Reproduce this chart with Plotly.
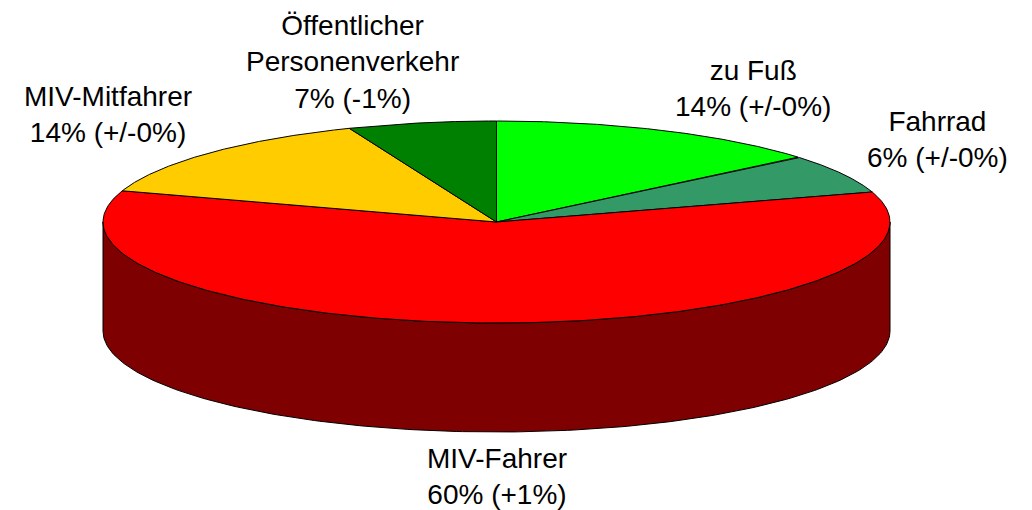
import numpy as np
import plotly.graph_objects as go

# ---- data ----
categories = ["zu Fuß", "Fahrrad", "MIV-Fahrer", "MIV-Mitfahrer", "Öffentlicher Personenverkehr"]
shares = [13.9, 6.3, 59.8, 13.9, 6.1]          # estimated slice shares (%)
label_texts = ["zu Fuß<br>14% (+/-0%)",
               "Fahrrad<br>6% (+/-0%)",
               "MIV-Fahrer<br>60% (+1%)",
               "MIV-Mitfahrer<br>14% (+/-0%)",
               "Öffentlicher<br>Personenverkehr<br>7% (-1%)"]

# ---- style / layout ----
colors = ["#00FF00", "#339966", "#FF0000", "#FFCC00", "#008000"]
label_pos = [(753, 88), (937, 139), (497, 476), (108, 114), (352, 62)]
CX, CY, RX, RY, DEPTH = 496.5, 222.0, 393.5, 101.0, 109.0
W, H = 1032, 510
OFF = 8  # default page body margin
FONT = "Liberation Sans, Arial, Helvetica, sans-serif"


def darker(hexc, f=0.5):
    r, g, b = int(hexc[1:3], 16), int(hexc[3:5], 16), int(hexc[5:7], 16)
    return "#%02X%02X%02X" % (int(r * f), int(g * f), int(b * f))


def ell(t, dy=0.0):
    t = np.radians(t)
    return CX + RX * np.sin(t), CY - RY * np.cos(t) + dy


fig = go.Figure()
total = float(sum(shares))
bounds = np.concatenate([[0], np.cumsum(shares) / total * 360.0])

# sides (visible front: 90..270 deg)
for i in range(len(shares)):
    s0, s1 = max(bounds[i], 90), min(bounds[i + 1], 270)
    if s1 <= s0:
        continue
    t = np.linspace(s0, s1, 200)
    xt, yt = ell(t)
    xb, yb = ell(t[::-1], DEPTH)
    xs = np.concatenate([xt, xb, xt[:1]])
    ys = np.concatenate([yt, yb, yt[:1]])
    fig.add_trace(go.Scatter(x=xs, y=ys, mode="lines", fill="toself",
                             fillcolor=darker(colors[i]),
                             line=dict(color="black", width=1),
                             hoverinfo="skip", showlegend=False))

# tops
for i in range(len(shares)):
    t = np.linspace(bounds[i], bounds[i + 1], 300)
    xa, ya = ell(t)
    xs = np.concatenate([[CX], xa, [CX]])
    ys = np.concatenate([[CY], ya, [CY]])
    fig.add_trace(go.Scatter(x=xs, y=ys, mode="lines", fill="toself",
                             fillcolor=colors[i],
                             line=dict(color="black", width=1),
                             hoverinfo="skip", showlegend=False,
                             name=categories[i]))

for txt, (lx, ly) in zip(label_texts, label_pos):
    fig.add_annotation(x=lx, y=ly, text=txt, showarrow=False,
                       xanchor="center", yanchor="middle", align="center",
                       font=dict(family=FONT, size=28, color="black"))

fig.update_layout(width=W - OFF, height=H - OFF, autosize=False,
                  margin=dict(l=0, r=0, t=0, b=0),
                  paper_bgcolor="white", plot_bgcolor="white",
                  xaxis=dict(range=[OFF, W], visible=False, fixedrange=True),
                  yaxis=dict(range=[H, OFF], visible=False, fixedrange=True))

fig.write_html("out.html")
